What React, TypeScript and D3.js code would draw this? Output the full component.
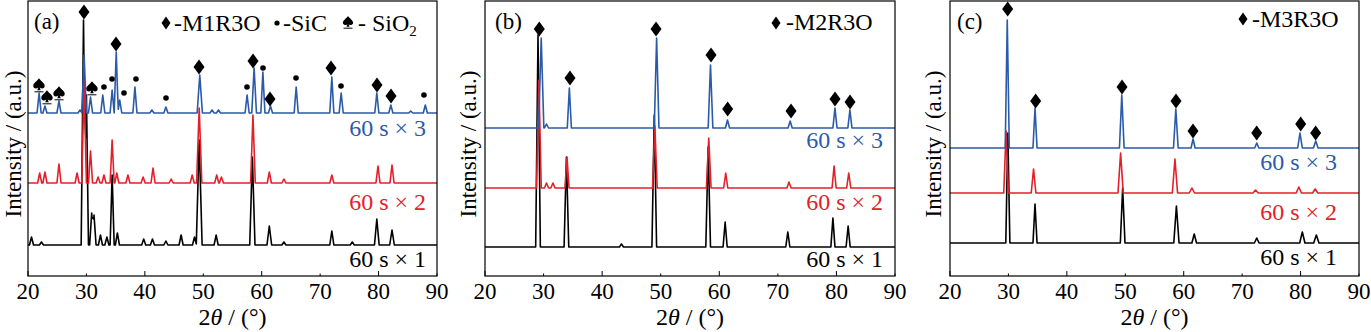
import React from 'react';
import * as d3 from 'd3';

type Peak = [number, number, number?];
type Mark = [number, number];

const xTicks = [20, 30, 40, 50, 60, 70, 80, 90];
const seriesNames = ['60 s × 1', '60 s × 2', '60 s × 3'];
const seriesColors = ['#000000', '#e3202a', '#2b5aa8'];

// ---- Panel (a) : M1R3O ----
const aBaselines = [31, 93, 163];
const aBlack: Peak[] = [[20.6, 8], [22.3, 3], [29.5, 225, 0.4], [30.0, 150, 0.35], [30.9, 32], [31.3, 30], [32.4, 10], [33.5, 8], [34.4, 70], [35.3, 12], [39.8, 6], [41.3, 6], [43.6, 4], [46.2, 10], [48.5, 8], [49.3, 105, 0.5], [52.2, 10], [58.4, 88, 0.45], [61.3, 19, 0.4], [63.8, 3], [72.0, 14], [75.5, 3], [79.7, 26, 0.4], [82.3, 15, 0.4]];
const aRed: Peak[] = [[22.0, 10], [22.9, 11], [25.3, 19], [28.4, 10], [29.6, 103, 0.4], [30.7, 32], [32.0, 6], [33.0, 8], [34.4, 43], [35.2, 10], [37.1, 8], [39.7, 6], [41.4, 15], [44.5, 4], [48.1, 8], [49.3, 75, 0.45], [52.3, 8], [53.1, 6], [58.5, 68, 0.4], [61.3, 11], [63.8, 4], [72.0, 8], [79.9, 17], [82.3, 18]];
const aBlue: Peak[] = [[21.9, 20], [22.9, 7], [25.3, 12], [28.9, 3], [29.6, 58, 0.4], [30.7, 16], [32.8, 18], [34.4, 23], [35.1, 61], [35.7, 13], [38.3, 26], [41.2, 3], [43.6, 6], [49.4, 38, 0.45], [51.5, 3], [52.6, 3], [57.5, 18], [58.7, 45, 0.4], [60.2, 41], [61.5, 7], [65.9, 26], [72.0, 36], [73.6, 20], [79.7, 20], [82.1, 8], [85.5, 2], [88.0, 8]];
const aDiamonds: Mark[] = [[29.58, 264], [35.06, 232], [49.27, 209], [58.51, 215], [61.42, 177], [71.86, 208], [79.73, 191], [82.13, 180]];
const aDots: Mark[] = [[33.0, 189], [34.38, 197], [36.43, 183], [38.48, 197], [43.62, 178], [57.48, 189], [60.22, 208], [65.87, 198], [73.57, 190], [87.77, 181]];
const aSpades: Mark[] = [[21.88, 191], [23.25, 179], [25.31, 183], [30.95, 188]];

// ---- Panel (b) : M2R3O ----
const bBaselines = [29, 88, 148];
const bBlack: Peak[] = [[29.05, 212, 0.4], [33.9, 90, 0.4], [43.3, 3], [48.9, 132, 0.4], [58.1, 100, 0.4], [61.0, 25], [71.7, 15], [79.4, 29], [82.0, 21]];
const bRed: Peak[] = [[29.2, 108, 0.4], [30.5, 5], [31.6, 5], [34.0, 31], [49.0, 62, 0.4], [58.2, 50, 0.4], [61.1, 15], [71.9, 6], [79.6, 22], [82.1, 15]];
const bBlue: Peak[] = [[29.6, 90, 0.45], [30.5, 4], [34.4, 40], [49.3, 90, 0.4], [58.5, 63, 0.4], [61.4, 8], [72.1, 7], [79.75, 20], [82.3, 18]];
const bDiamonds: Mark[] = [[29.27, 247], [34.51, 198], [49.2, 247], [58.59, 221], [61.43, 167], [72.25, 165], [79.76, 177], [82.32, 174]];

// ---- Panel (c) : M3R3O ----
const cBaselines = [33, 83, 128];
const cBlack: Peak[] = [[29.9, 110, 0.35], [34.55, 39], [49.55, 55, 0.4], [58.75, 37, 0.45], [61.8, 9, 0.4], [72.5, 5, 0.4], [80.3, 11, 0.45], [82.7, 8, 0.45]];
const cRed: Peak[] = [[29.6, 62, 0.4], [34.3, 24, 0.4], [49.2, 40, 0.45], [58.5, 34, 0.45], [61.4, 5, 0.45], [72.3, 3, 0.45], [79.7, 6, 0.45], [82.5, 4, 0.45]];
const cBlue: Peak[] = [[29.8, 128, 0.35], [34.55, 40], [49.4, 53, 0.4], [58.65, 39, 0.4], [61.6, 9], [72.5, 5], [79.9, 15, 0.4], [82.6, 7, 0.4]];
const cDiamonds: Mark[] = [[29.87, 267], [34.66, 175], [49.44, 189], [58.68, 175], [61.59, 145], [72.49, 143], [80.02, 152], [82.58, 143]];

const FONT = '"Times New Roman", "Liberation Serif", Tinos, Times, serif';

function trace(peaks: Peak[], base: number): [number, number][] {
  const xs = new Set<number>([20, 90]);
  peaks.forEach(([p, , w = 0.35]) => { xs.add(p - w); xs.add(p); xs.add(p + w); });
  const sorted = Array.from(xs).filter(x => x >= 20 && x <= 90).sort((a, b) => a - b);
  return sorted.map(x => {
    let y = base;
    peaks.forEach(([p, h, w = 0.35]) => { y += Math.max(0, h * (1 - Math.abs(x - p) / w)); });
    return [x, y];
  });
}

const diamondPath = (w: number, h: number) => `M0,${-h}L${w},0L0,${h}L${-w},0Z`;
const spadePath = (s: number) =>
  `M0,${-7 * s}C${2 * s},${-4 * s} ${6 * s},${-2 * s} ${6 * s},${1 * s}C${6 * s},${3.5 * s} ${3 * s},${4.5 * s} ${0.8 * s},${2.5 * s}L${1.8 * s},${5.5 * s}L${-1.8 * s},${5.5 * s}L${-0.8 * s},${2.5 * s}C${-3 * s},${4.5 * s} ${-6 * s},${3.5 * s} ${-6 * s},${1 * s}C${-6 * s},${-2 * s} ${-2 * s},${-4 * s} 0,${-7 * s}Z`;

interface PanelProps {
  x0: number; x1: number; label: string; labelX: number;
  series: Peak[][]; baselines: number[];
  diamonds: Mark[]; dots?: Mark[]; spades?: Mark[];
  seriesLabelX: number; seriesLabelY: number[];
  yLabelX: number;
  legend: React.ReactNode;
}

function Panel(p: PanelProps) {
  const top = 1, bottom = 276;
  const x = d3.scaleLinear().domain([20, 90]).range([p.x0, p.x1]);
  const y = d3.scaleLinear().domain([0, 275]).range([bottom, top]);
  const line = d3.line<[number, number]>().x(d => x(d[0])).y(d => y(d[1]));
  return (
    <g style={{ fontFamily: FONT }}>
      {p.series.map((s, i) => (
        <path key={i} d={line(trace(s, p.baselines[i])) || ''} fill="none" stroke={seriesColors[i]} strokeWidth={1.6} strokeLinejoin="round" />
      ))}
      {p.diamonds.map(([a, b], i) => (
        <path key={'d' + i} d={diamondPath(5.5, 7.5)} transform={`translate(${x(a)},${y(b)})`} fill="#000" />
      ))}
      {(p.dots || []).map(([a, b], i) => (
        <circle key={'o' + i} cx={x(a)} cy={y(b)} r={2.8} fill="#000" />
      ))}
      {(p.spades || []).map(([a, b], i) => (
        <g key={'s' + i} transform={`translate(${x(a)},${y(b)})`}>
          <path d={spadePath(0.95)} fill="#000" />
          <line x1={-4.5} x2={4.5} y1={6.8} y2={6.8} stroke="#000" strokeWidth={1} />
        </g>
      ))}
      <rect x={p.x0} y={top} width={p.x1 - p.x0} height={bottom - top} fill="none" stroke="#000" strokeWidth={1.2} />
      {xTicks.map((t, i) => (
        <g key={'t' + t}>
          <line x1={x(t)} x2={x(t)} y1={bottom} y2={bottom - (i % 2 === 0 ? 5 : 2.5)} stroke="#000" strokeWidth={1} />
          <text x={x(t)} y={299} textAnchor="middle" fontSize={23}>{t}</text>
        </g>
      ))}
      <text x={(p.x0 + p.x1) / 2} y={325} textAnchor="middle" fontSize={24}>
        2<tspan fontStyle="italic">θ</tspan> / (°)
      </text>
      <text transform={`translate(${p.yLabelX},144) rotate(-90)`} textAnchor="middle" fontSize={23}>Intensity / (a.u.)</text>
      <text x={p.labelX} y={29} fontSize={23}>{p.label}</text>
      {seriesNames.map((n, i) => (
        <text key={'n' + i} x={p.seriesLabelX} y={p.seriesLabelY[i]} textAnchor="end" fontSize={24} fill={seriesColors[i]}>{n}</text>
      ))}
      {p.legend}
    </g>
  );
}

export default function App() {
  const legendA = (
    <g style={{ fontFamily: FONT }} fontSize={24}>
      <path d={diamondPath(4.5, 6.5)} transform="translate(166,23)" fill="#000" />
      <text x={174} y={31}>-M1R3O</text>
      <circle cx={277} cy={23} r={2.6} fill="#000" />
      <text x={283} y={31}>-SiC</text>
      <g transform="translate(348,22)">
        <path d={spadePath(0.85)} fill="#000" />
        <line x1={-4.5} x2={4.5} y1={6.2} y2={6.2} stroke="#000" strokeWidth={1} />
      </g>
      <text x={358} y={31}>- SiO<tspan fontSize={15} dy={5}>2</tspan></text>
    </g>
  );
  const legendB = (
    <g style={{ fontFamily: FONT }} fontSize={24}>
      <path d={diamondPath(4.5, 6.5)} transform="translate(776,23)" fill="#000" />
      <text x={786} y={30}>-M2R3O</text>
    </g>
  );
  const legendC = (
    <g style={{ fontFamily: FONT }} fontSize={24}>
      <path d={diamondPath(4.5, 6.5)} transform="translate(1243,19)" fill="#000" />
      <text x={1252} y={27}>-M3R3O</text>
    </g>
  );
  return (
    <svg width={1371} height={332} style={{ position: 'absolute', left: 0, top: 0, background: '#fff' }}>
      <rect width={1371} height={332} fill="#fff" />
      <Panel x0={28} x1={437} label="(a)" labelX={34} series={[aBlack, aRed, aBlue]} baselines={aBaselines}
        diamonds={aDiamonds} dots={aDots} spades={aSpades} seriesLabelX={426} seriesLabelY={[267, 210, 136]} yLabelX={21} legend={legendA} />
      <Panel x0={485} x1={895} label="(b)" labelX={495} series={[bBlack, bRed, bBlue]} baselines={bBaselines}
        diamonds={bDiamonds} seriesLabelX={883} seriesLabelY={[267, 210, 148]} yLabelX={476} legend={legendB} />
      <Panel x0={950} x1={1359} label="(c)" labelX={957} series={[cBlack, cRed, cBlue]} baselines={cBaselines}
        diamonds={cDiamonds} seriesLabelX={1337} seriesLabelY={[265, 220, 170]} yLabelX={941} legend={legendC} />
    </svg>
  );
}
